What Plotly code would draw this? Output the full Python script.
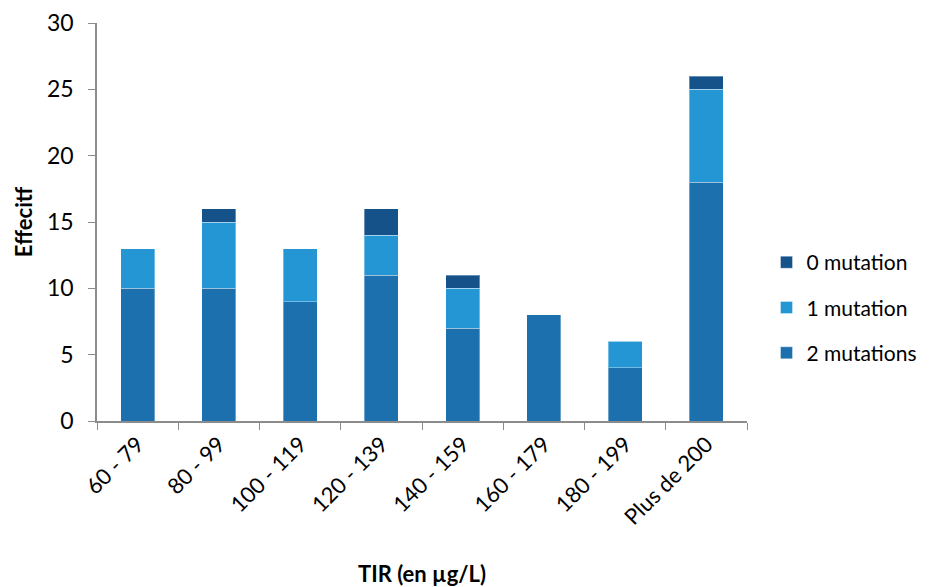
import plotly.graph_objects as go

categories = ["60 - 79", "80 - 99", "100 - 119", "120 - 139", "140 - 159", "160 - 179", "180 - 199", "Plus de 200"]
two_mut = [10, 10, 9, 11, 7, 8, 4, 18]
one_mut = [3, 5, 4, 3, 3, 0, 2, 7]
zero_mut = [0, 1, 0, 2, 1, 0, 0, 1]

FONT = "Lato, 'Open Sans', sans-serif"
line = dict(color="rgba(255,255,255,0.35)", width=1)

fig = go.Figure()
fig.add_trace(go.Bar(x=categories, y=two_mut, name="2 mutations", legendgroup="a", legendrank=3,
                     marker=dict(color="#1C70AE", line=line)))
fig.add_trace(go.Bar(x=categories, y=one_mut, name="1 mutation", legendgroup="b", legendrank=2,
                     marker=dict(color="#2596D4", line=line)))
fig.add_trace(go.Bar(x=categories, y=zero_mut, name="0 mutation", legendgroup="c", legendrank=1,
                     marker=dict(color="#15528A", line=line)))

fig.update_layout(
    barmode="stack",
    bargap=0.58,
    width=930, height=587,
    margin=dict(l=97, r=183, t=23, b=166, autoexpand=False),
    plot_bgcolor="white", paper_bgcolor="white",
    font=dict(family=FONT, size=22, color="#000000"),
    legend=dict(traceorder="grouped", x=1.03, y=0.285, xanchor="left", yanchor="middle",
                font=dict(size=21), itemwidth=30, tracegroupgap=15),
    xaxis=dict(showline=True, linecolor="#8c8c8c", linewidth=1.5, ticks="outside", ticklen=7,
               tickcolor="#8c8c8c", tickson="boundaries", tickangle=-45, tickfont=dict(size=22),
               automargin=False,
               title=dict(text="<b>TIR (en µg/L)</b>", font=dict(size=22), standoff=40)),
    yaxis=dict(range=[0, 30], dtick=5, showline=True, linecolor="#8c8c8c", linewidth=1.5,
               ticks="outside", ticklen=7, tickcolor="#8c8c8c", showgrid=False, zeroline=False,
               tickfont=dict(size=23), automargin=False, ticklabelstandoff=10,
               title=dict(text="<b>Effecitf</b>", font=dict(size=22), standoff=8)),
)
fig.write_html("out.html")
